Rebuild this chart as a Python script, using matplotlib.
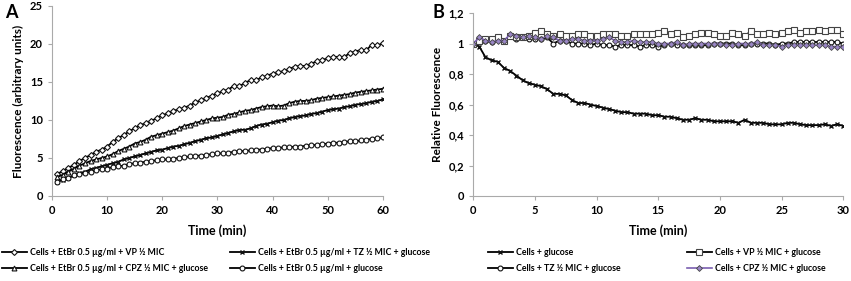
import numpy as np
import matplotlib
matplotlib.use("Agg")
import matplotlib.pyplot as plt
from matplotlib.ticker import FuncFormatter

plt.rcParams["font.family"] = ["Lato", "DejaVu Sans"]
plt.rcParams["font.weight"] = "bold"

# panel A: accumulation, one reading per minute
t_a = list(range(1, 61))
vp_a = [2.9, 3.3, 3.7, 4.1, 4.6, 5.0, 5.4, 5.8, 6.1, 6.5,
        7.1, 7.6, 8.0, 8.5, 8.9, 9.3, 9.6, 9.9, 10.2, 10.6,
        10.9, 11.2, 11.4, 11.6, 11.9, 12.3, 12.6, 12.9, 13.2, 13.5,
        13.8, 14.0, 14.5, 14.5, 14.8, 15.3, 15.2, 15.6, 15.8, 16.1,
        16.3, 16.4, 16.7, 17.0, 17.1, 17.1, 17.4, 17.7, 17.9, 18.1,
        18.3, 18.3, 18.3, 18.8, 19.0, 19.2, 19.2, 19.9, 19.8, 20.1]
cpz_a = [2.5, 2.8, 3.2, 3.6, 4.0, 4.3, 4.6, 4.8, 5.0, 5.2,
         5.5, 5.9, 6.2, 6.5, 6.9, 7.1, 7.4, 7.8, 8.0, 8.2,
         8.4, 8.6, 8.9, 9.2, 9.4, 9.6, 9.8, 10.0, 10.2, 10.3,
         10.4, 10.7, 10.8, 11.0, 11.2, 11.3, 11.5, 11.7, 11.8, 11.9,
         11.8, 11.9, 12.2, 12.4, 12.5, 12.5, 12.6, 12.8, 12.9, 13.0,
         13.1, 13.2, 13.3, 13.4, 13.6, 13.7, 13.8, 13.9, 14.0, 14.1]
tz_a = [1.9, 2.1, 2.4, 2.7, 3.0, 3.2, 3.5, 3.7, 3.9, 4.1,
        4.3, 4.5, 4.8, 5.0, 5.2, 5.4, 5.6, 5.8, 6.0, 6.1,
        6.3, 6.5, 6.6, 6.8, 7.0, 7.2, 7.4, 7.6, 7.7, 7.9,
        8.1, 8.3, 8.5, 8.7, 8.7, 8.9, 9.2, 9.4, 9.5, 9.7,
        9.9, 10.0, 10.2, 10.4, 10.5, 10.6, 10.8, 10.9, 11.1, 11.3,
        11.4, 11.5, 11.7, 11.8, 12.0, 12.1, 12.2, 12.4, 12.5, 12.7]
glu_a = [1.9, 2.2, 2.4, 2.7, 2.9, 3.0, 3.2, 3.4, 3.5, 3.6,
         3.8, 3.9, 4.0, 4.2, 4.3, 4.4, 4.5, 4.6, 4.7, 4.8,
         4.8, 4.9, 5.0, 5.1, 5.2, 5.3, 5.3, 5.4, 5.5, 5.6,
         5.6, 5.7, 5.8, 5.9, 5.9, 6.0, 6.1, 6.1, 6.2, 6.3,
         6.3, 6.4, 6.4, 6.5, 6.5, 6.6, 6.7, 6.7, 6.8, 6.9,
         7.0, 7.0, 7.1, 7.2, 7.2, 7.3, 7.4, 7.5, 7.6, 7.7]

# panel B: efflux, one reading every 30 s
t_b = [i * 0.5 for i in range(61)]
glu_b = [1.00, 0.98, 0.91, 0.89, 0.88, 0.84, 0.82, 0.79, 0.76, 0.74,
         0.73, 0.72, 0.70, 0.67, 0.67, 0.66, 0.63, 0.61, 0.61, 0.60,
         0.59, 0.58, 0.57, 0.56, 0.55, 0.55, 0.54, 0.54, 0.54, 0.53,
         0.53, 0.52, 0.52, 0.51, 0.50, 0.50, 0.51, 0.50, 0.50, 0.49,
         0.49, 0.49, 0.49, 0.48, 0.50, 0.48, 0.48, 0.48, 0.47, 0.47,
         0.47, 0.48, 0.48, 0.47, 0.465, 0.465, 0.465, 0.47, 0.46, 0.47,
         0.46]
vp_b = [1.00, 1.02, 1.03, 1.03, 1.04, 1.02, 1.05, 1.04, 1.04, 1.05,
        1.07, 1.08, 1.06, 1.05, 1.06, 1.05, 1.05, 1.06, 1.06, 1.05,
        1.05, 1.06, 1.06, 1.06, 1.05, 1.05, 1.06, 1.06, 1.06, 1.06,
        1.07, 1.08, 1.06, 1.07, 1.04, 1.05, 1.06, 1.07, 1.07, 1.06,
        1.05, 1.05, 1.07, 1.06, 1.05, 1.08, 1.06, 1.06, 1.07, 1.06,
        1.07, 1.08, 1.09, 1.07, 1.08, 1.08, 1.09, 1.08, 1.09, 1.09,
        1.06]
tz_b = [1.00, 1.01, 1.02, 1.01, 1.03, 1.02, 1.05, 1.03, 1.04, 1.03,
        1.03, 1.03, 1.04, 1.00, 1.02, 1.02, 1.00, 1.00, 1.00, 0.99,
        1.00, 0.99, 0.99, 0.98, 0.99, 0.99, 0.99, 0.98, 0.99, 0.99,
        0.98, 0.99, 1.00, 0.99, 0.99, 0.99, 0.99, 0.99, 0.99, 1.00,
        1.00, 1.00, 1.00, 0.99, 0.99, 1.00, 1.00, 1.00, 1.00, 0.99,
        1.00, 1.00, 1.01, 1.01, 1.01, 1.01, 1.01, 1.01, 1.01, 1.01,
        1.00]
cpz_b = [1.00, 1.04, 1.02, 1.01, 1.02, 1.02, 1.06, 1.05, 1.04, 1.05,
         1.04, 1.03, 1.05, 1.04, 1.02, 1.02, 1.03, 1.03, 1.02, 1.02,
         1.02, 1.03, 1.04, 1.02, 1.01, 1.01, 1.02, 1.01, 1.01, 1.01,
         1.00, 1.00, 1.00, 1.01, 0.99, 1.00, 1.00, 1.00, 1.00, 1.00,
         1.00, 0.99, 0.99, 1.00, 1.00, 1.00, 1.01, 0.99, 0.99, 0.99,
         0.98, 0.99, 0.99, 0.99, 0.99, 0.99, 0.99, 0.99, 0.98, 0.98,
         0.98]

fig = plt.figure(figsize=(8.51, 2.81), dpi=100)
axA = fig.add_axes([0.061, 0.3025, 0.389, 0.6765])
axB = fig.add_axes([0.556, 0.3025, 0.435, 0.651])

mk = dict(markersize=3.5, markerfacecolor="white", markeredgecolor="#111111",
          markeredgewidth=0.8, linewidth=1.3, color="black")

axA.plot(t_a, vp_a, marker="D", label="Cells + EtBr 0.5 µg/ml + VP ½ MIC", **{**mk, "markersize": 3})
axA.plot(t_a, cpz_a, marker="^", label="Cells + EtBr 0.5 µg/ml + CPZ ½ MIC + glucose", **mk)
axA.plot(t_a, tz_a, marker="x", label="Cells + EtBr 0.5 µg/ml + TZ ½ MIC + glucose", **{**mk, "markeredgewidth": 1.0})
axA.plot(t_a, glu_a, marker="o", label="Cells + EtBr 0.5 µg/ml + glucose", **mk)

axB.plot(t_b, glu_b, marker="x", label="Cells + glucose", **{**mk, "markeredgewidth": 1.0})
axB.plot(t_b, tz_b, marker="o", label="Cells + TZ ½ MIC + glucose", **mk)
axB.plot(t_b, vp_b, marker="s", label="Cells + VP ½ MIC + glucose",
         **{**mk, "markeredgecolor": "#444444", "markersize": 4})
axB.plot(t_b, cpz_b, marker="D", label="Cells + CPZ ½ MIC + glucose",
         markersize=3, markerfacecolor="#9a86c6", markeredgecolor="#444444",
         markeredgewidth=0.6, linewidth=1.2, color="#7a5fb0")

axA.set_xlim(0, 60)
axA.set_ylim(0, 25)
axA.set_xticks(range(0, 61, 10))
axA.set_yticks(range(0, 26, 5))
axA.set_xlabel("Time (min)", fontsize=9, fontweight="bold", labelpad=6)
axA.set_ylabel("Fluorescence (arbitrary units)", fontsize=8.5, fontweight="bold")

axB.set_xlim(0, 30)
axB.set_ylim(0, 1.2)
axB.set_xticks(range(0, 31, 5))
axB.set_yticks([0, 0.2, 0.4, 0.6, 0.8, 1.0, 1.2])
axB.yaxis.set_major_formatter(FuncFormatter(lambda v, p: ("%g" % round(v, 1)).replace(".", ",")))
axB.set_xlabel("Time (min)", fontsize=9, fontweight="bold", labelpad=6)
axB.set_ylabel("Relative Fluorescence", fontsize=8.5, fontweight="bold")

for ax in (axA, axB):
    for s in ("top", "right"):
        ax.spines[s].set_visible(False)
    for s in ("left", "bottom"):
        ax.spines[s].set_color("#aaaaaa")
        ax.spines[s].set_linewidth(0.8)
    ax.tick_params(axis="both", labelsize=8, length=3, color="#aaaaaa", width=0.8)
    for lab in ax.get_xticklabels() + ax.get_yticklabels():
        lab.set_fontweight("bold")

hA, lA = axA.get_legend_handles_labels()
hB, lB = axB.get_legend_handles_labels()
legA = fig.legend(hA, lA, loc="upper left", bbox_to_anchor=(0.002, 0.117), ncol=2, frameon=False,
                  fontsize=6.3, handlelength=2.9, columnspacing=2.5, labelspacing=0.75,
                  handletextpad=0.3, borderaxespad=0, borderpad=0)
legB = fig.legend(hB, lB, loc="upper left", bbox_to_anchor=(0.573, 0.117), ncol=2, frameon=False,
                  fontsize=6.3, handlelength=2.9, columnspacing=7.6, labelspacing=0.75,
                  handletextpad=0.3, borderaxespad=0, borderpad=0)
for leg in (legA, legB):
    for txt in leg.get_texts():
        txt.set_fontweight("bold")

fig.text(0.006, 0.955, "A", fontsize=13, fontweight="bold", va="center")
fig.text(0.508, 0.955, "B", fontsize=13, fontweight="bold", va="center")

fig.savefig("out.png", dpi=100)
